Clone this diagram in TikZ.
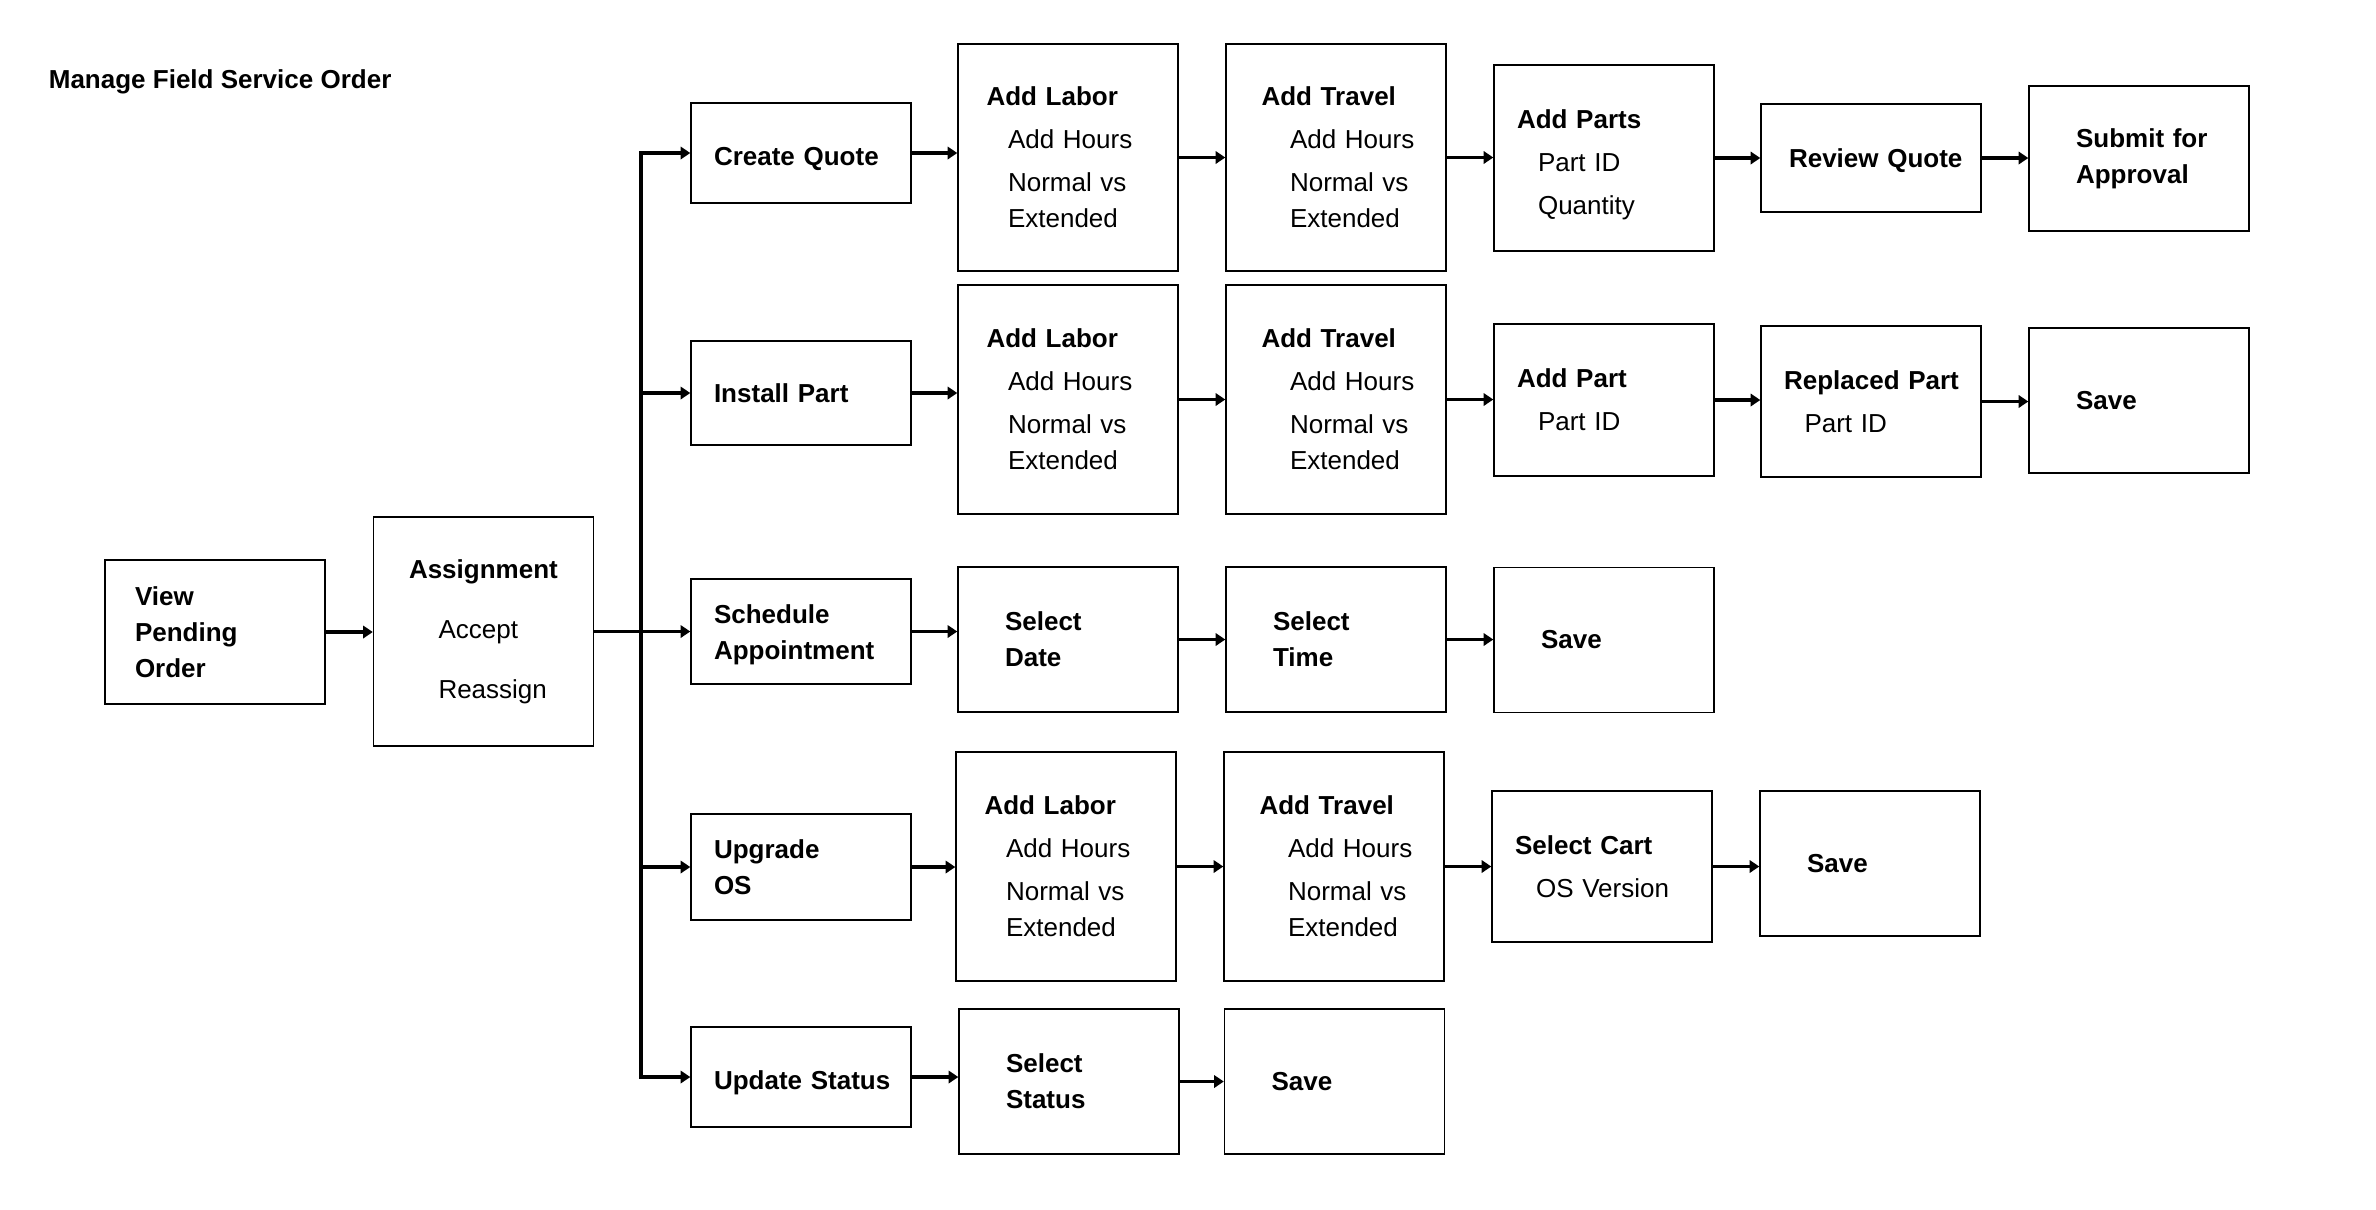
\documentclass[tikz,border=0pt]{standalone}
\usepackage{fontspec}
\setmainfont{Liberation Sans}
\usetikzlibrary{arrows.meta, positioning}

\tikzset{
  box/.style={draw=black, line width=0.8pt, text width=4.4cm, inner xsep=0pt, align=left, minimum height=#1},
  flow/.style={->, line width=2.1pt},
  bus/.style={line width=2.1pt, line cap=rect},
}
\newcommand{\pad}[1]{\hspace*{#1cm}}
\newcommand{\drop}[1]{\rule{0pt}{#1}}

\begin{document}
\begin{tikzpicture}[>={Triangle[length=5.5pt, width=7pt]}, font=\fontsize{14.8}{20.5}\selectfont\bfseries]

\useasboundingbox (0,0) rectangle (47.52,-24.18);

% Title
\node[anchor=west, inner sep=0pt] (title) at (0.97,-1.64) {Manage Field Service Order};

% Start
\node[box=2.88cm] (view) at (4.3,-12.64) {\pad{0.6}View\\\pad{0.6}Pending\\\pad{0.6}Order};
\node[box=4.58cm] (asg) at (9.67,-12.63) {\pad{0.71}Assignment\\[13.6pt]\mdseries\pad{1.3}Accept\\[13.6pt]\pad{1.3}Reassign};

% --- Create Quote ---
\node[box=2cm] (cq) at (16.02,-3.06) {\drop{17.6pt}\pad{0.46}Create Quote};
\node[box=4.54cm] (cqlab) at (21.36,-3.15) {\pad{0.57}Add Labor\\[4pt]\mdseries\pad{1.0}Add Hours\\[4pt]\pad{1.0}Normal vs\\\pad{1.0}Extended};
\node[box=4.54cm] (cqtrv) at (26.72,-3.15) {\pad{0.71}Add Travel\\[4pt]\mdseries\pad{1.28}Add Hours\\[4pt]\pad{1.28}Normal vs\\\pad{1.28}Extended};
\node[box=3.72cm] (cqprt) at (32.08,-3.16) {\drop{18.8pt}\pad{0.46}Add Parts\\[4pt]\mdseries\pad{0.88}Part ID\\[4pt]\pad{0.88}Quantity};
\node[box=2.16cm] (cqrev) at (37.42,-3.16) {\drop{14.2pt}\pad{0.56}Review Quote};
\node[box=2.9cm] (cqsub) at (42.78,-3.17) {\pad{0.94}Submit for\\\pad{0.94}Approval};

% --- Install Part ---
\node[box=2.08cm] (ip) at (16.02,-7.86) {\pad{0.46}Install Part};
\node[box=4.58cm] (iplab) at (21.36,-7.99) {\pad{0.57}Add Labor\\[4pt]\mdseries\pad{1.0}Add Hours\\[4pt]\pad{1.0}Normal vs\\\pad{1.0}Extended};
\node[box=4.58cm] (iptrv) at (26.72,-7.99) {\pad{0.71}Add Travel\\[4pt]\mdseries\pad{1.28}Add Hours\\[4pt]\pad{1.28}Normal vs\\\pad{1.28}Extended};
\node[box=3.04cm] (ipprt) at (32.08,-8.0) {\pad{0.46}Add Part\\[4pt]\mdseries\pad{0.88}Part ID};
\node[box=3.02cm] (iprep) at (37.42,-8.03) {\pad{0.46}Replaced Part\\[4pt]\mdseries\pad{0.87}Part ID};
\node[box=2.9cm] (ipsav) at (42.78,-8.01) {\pad{0.94}Save};

% --- Schedule Appointment ---
\node[box=2.1cm] (sa) at (16.02,-12.63) {\drop{14.2pt}\pad{0.46}Schedule\\\pad{0.46}Appointment};
\node[box=2.9cm] (sadat) at (21.36,-12.79) {\pad{0.94}Select\\\pad{0.94}Date};
\node[box=2.9cm] (satim) at (26.72,-12.79) {\pad{0.94}Select\\\pad{0.94}Time};
\node[box=2.9cm] (sasav) at (32.08,-12.8) {\pad{0.94}Save};

% --- Upgrade OS ---
\node[box=2.12cm] (uo) at (16.02,-17.34) {\pad{0.46}Upgrade\\\pad{0.46}OS};
\node[box=4.58cm] (uolab) at (21.32,-17.33) {\pad{0.57}Add Labor\\[4pt]\mdseries\pad{1.0}Add Hours\\[4pt]\pad{1.0}Normal vs\\\pad{1.0}Extended};
\node[box=4.58cm] (uotrv) at (26.68,-17.33) {\pad{0.71}Add Travel\\[4pt]\mdseries\pad{1.28}Add Hours\\[4pt]\pad{1.28}Normal vs\\\pad{1.28}Extended};
\node[box=3.02cm] (uocrt) at (32.04,-17.33) {\pad{0.46}Select Cart\\[4pt]\mdseries\pad{0.88}OS Version};
\node[box=2.9cm] (uosav) at (37.4,-17.27) {\pad{0.94}Save};

% --- Update Status ---
\node[box=2cm] (us) at (16.02,-21.54) {\drop{17.6pt}\pad{0.46}Update Status};
\node[box=2.9cm] (usst) at (21.38,-21.63) {\pad{0.94}Select\\\pad{0.94}Status};
\node[box=2.9cm] (ussav) at (26.69,-21.63) {\pad{0.94}Save};

% Branch bus
\coordinate (trunk) at (12.82,0);
\draw[bus] (cq.west -| trunk) -- (us.west -| trunk);

\draw[flow] (view.east) -- (view.east -| asg.west);
\draw[flow] (asg.east) -- (asg.east -| sa.west);
\draw[flow] (cq.west -| trunk) -- (cq.west);
\draw[flow] (ip.west -| trunk) -- (ip.west);
\draw[flow] (uo.west -| trunk) -- (uo.west);
\draw[flow] (us.west -| trunk) -- (us.west);

% Rows
\draw[flow] (cq.east) -- (cq.east -| cqlab.west);
\draw[flow] (cqlab.east) -- (cqlab.east -| cqtrv.west);
\draw[flow] (cqtrv.east) -- (cqtrv.east -| cqprt.west);
\draw[flow] (cqprt.east) -- (cqprt.east -| cqrev.west);
\draw[flow] (cqrev.east) -- (cqrev.east -| cqsub.west);

\draw[flow] (ip.east) -- (ip.east -| iplab.west);
\draw[flow] (iplab.east) -- (iplab.east -| iptrv.west);
\draw[flow] (iptrv.east) -- (iptrv.east -| ipprt.west);
\draw[flow] (ipprt.east) -- (ipprt.east -| iprep.west);
\draw[flow] (iprep.east) -- (iprep.east -| ipsav.west);

\draw[flow] (sa.east) -- (sa.east -| sadat.west);
\draw[flow] (sadat.east) -- (sadat.east -| satim.west);
\draw[flow] (satim.east) -- (satim.east -| sasav.west);

\draw[flow] (uo.east) -- (uo.east -| uolab.west);
\draw[flow] (uolab.east) -- (uolab.east -| uotrv.west);
\draw[flow] (uotrv.east) -- (uotrv.east -| uocrt.west);
\draw[flow] (uocrt.east) -- (uocrt.east -| uosav.west);

\draw[flow] (us.east) -- (us.east -| usst.west);
\draw[flow] (usst.east) -- (usst.east -| ussav.west);

\end{tikzpicture}
\end{document}
